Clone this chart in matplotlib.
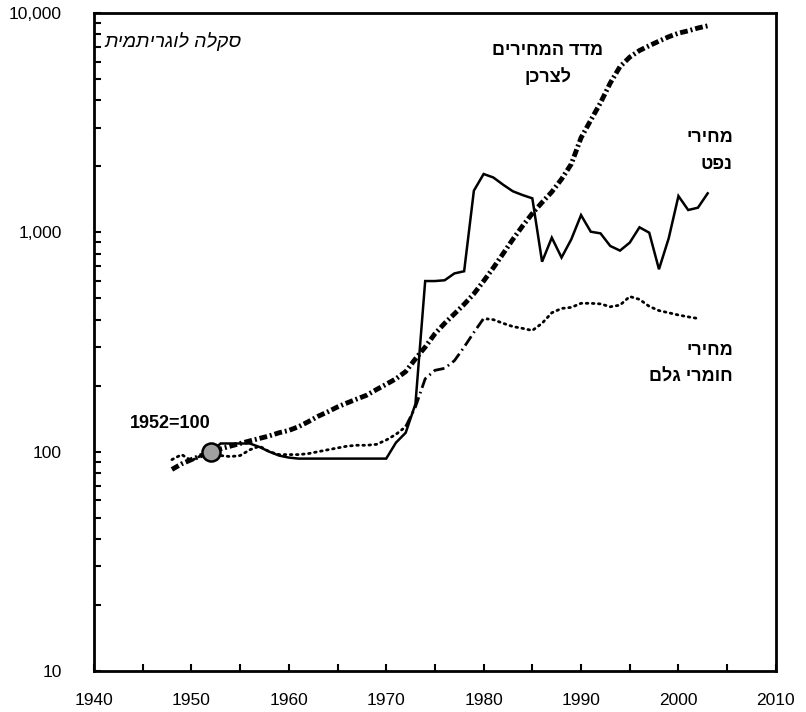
import matplotlib
matplotlib.use("Agg")
import matplotlib.pyplot as plt
from matplotlib.ticker import FixedLocator, LogLocator, NullFormatter, FuncFormatter

plt.rcParams['font.family'] = ['Liberation Sans', 'DejaVu Sans']

# Consumer price index (1952=100)
cpi_years = list(range(1948, 2004))
cpi_values = [83, 88, 92, 96, 100, 103, 106, 109, 112, 115,
              118, 122, 125, 130, 137, 145, 152, 160, 167, 174,
              181, 192, 203, 215, 232, 265, 300, 345, 385, 425,
              470, 525, 600, 690, 800, 930, 1070, 1220, 1370, 1530,
              1750, 2050, 2700, 3250, 3900, 4800, 5700, 6300, 6750, 7100,
              7450, 7800, 8100, 8300, 8550, 8750]

# Oil prices
oil_years = list(range(1952, 2004))
oil_values = [100, 109, 109, 109, 109, 105, 100, 96, 94, 93,
              93, 93, 93, 93, 93, 93, 93, 93, 93, 110,
              122, 165, 600, 600, 605, 650, 665, 1550, 1846, 1780,
              1650, 1540, 1480, 1430, 735, 946, 768, 930, 1199, 1007,
              990, 867, 826, 898, 1055, 997, 679, 940, 1465, 1265,
              1296, 1507]

# Raw material prices
raw_years = list(range(1948, 2003))
raw_values = [92, 97, 91, 96, 100, 96, 95, 96, 102, 106,
              100, 97, 97, 97, 98, 100, 102, 104, 106, 107,
              107, 108, 113, 120, 130, 160, 215, 235, 240, 260,
              300, 350, 405, 400, 385, 372, 365, 357, 385, 430,
              450, 455, 475, 475, 472, 458, 466, 510, 495, 460,
              440, 430, 420, 412, 405]

x_ticks = [1940, 1950, 1960, 1970, 1980, 1990, 2000, 2010]
y_ticks = [10, 100, 1000, 10000]


def heb(s):
    # matplotlib has no bidi support, so reverse each line for display
    return "\n".join(line[::-1] for line in s.split("\n"))


fig = plt.figure(figsize=(8.06, 7.12), dpi=100)
ax = fig.add_axes([0.1166, 0.0576, 0.846, 0.924])

# raw materials: dotted, dash-dot during the 70s jump
ax.plot(raw_years, raw_values, color='black', lw=2, linestyle=(0, (0.6, 1.6)),
        dash_capstyle='round')
seg = [i for i, y in enumerate(raw_years) if 1972 <= y <= 1980]
ax.plot([raw_years[i] for i in seg], [raw_values[i] for i in seg], color='white', lw=3)
ax.plot([raw_years[i] for i in seg], [raw_values[i] for i in seg], color='black', lw=2,
        linestyle=(0, (4, 1.5, 0.6, 1.5)))

# oil
ax.plot(oil_years, oil_values, color='black', lw=1.8, solid_joinstyle='miter')

# CPI: thick dash-dot
ax.plot(cpi_years, cpi_values, color='black', lw=3.5, linestyle=(0, (1.6, 0.6, 0.4, 0.6)))

ax.plot([1952], [100], 'o', ms=13, mfc='#a0a0a0', mec='black', mew=1.8, zorder=5)

ax.set_yscale('log')
ax.set_xlim(1940, 2010)
ax.set_ylim(10, 10000)
ax.xaxis.set_major_locator(FixedLocator(x_ticks))
ax.xaxis.set_minor_locator(FixedLocator(list(range(1945, 2010, 10))))
ax.yaxis.set_major_locator(FixedLocator(y_ticks))
ax.yaxis.set_minor_locator(LogLocator(base=10, subs=range(2, 10)))
ax.yaxis.set_minor_formatter(NullFormatter())
ax.yaxis.set_major_formatter(FuncFormatter(lambda v, p: f"{int(v):,}"))
ax.tick_params(which='both', direction='in', length=5, width=1.5, labelsize=12.5)
ax.tick_params(axis='x', pad=16)
ax.tick_params(axis='y', pad=23)

for sp in ax.spines.values():
    sp.set_linewidth(2)

ax.text(1947.8, 135, "1952=100", fontsize=13, fontweight='bold', ha='center', va='center')
ax.text(1941.1, 7380, heb("סקלה לוגריתמית"), fontsize=14, style='italic', ha='left', va='center')
ax.text(1986.6, 5860, heb("מדד המחירים\nלצרכן"), fontsize=13, fontweight='bold',
        ha='center', va='center', linespacing=1.72)
ax.text(2005.6, 2350, heb("מחירי\nנפט"), fontsize=13, fontweight='bold',
        ha='right', va='center', linespacing=1.72)
ax.text(2005.6, 251, heb("מחירי\nחומרי גלם"), fontsize=13, fontweight='bold',
        ha='right', va='center', linespacing=1.72)

fig.savefig("out.png", dpi=100)
